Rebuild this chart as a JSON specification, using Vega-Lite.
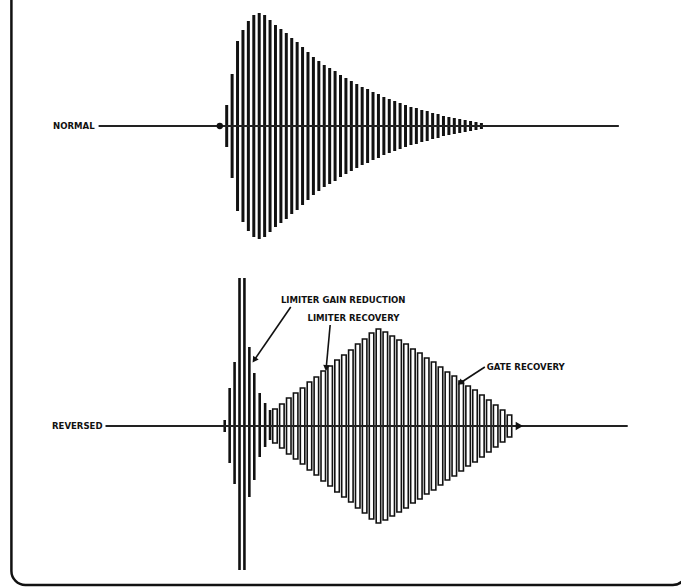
{
  "$schema": "https://vega.github.io/schema/vega-lite/v6.json",
  "width": 681,
  "height": 587,
  "padding": 0,
  "autosize": {"type": "fit", "contains": "padding"},
  "background": "white",
  "config": {"view": {"stroke": null}},
  "datasets": {
    "frame": [{"t": 6.5, "t2": 692, "v": -30, "v2": 585}],
    "baselines": [
      {"wave": "normal", "t": 95, "t2": 623, "v": 126},
      {"wave": "reversed", "t": 102, "t2": 632, "v": 426}
    ],
    "normal": [
      {"t": 225, "hi": 105, "lo": 147},
      {"t": 230.5, "hi": 74, "lo": 178},
      {"t": 236, "hi": 41, "lo": 211},
      {"t": 241.5, "hi": 30, "lo": 222},
      {"t": 247, "hi": 21, "lo": 231},
      {"t": 252.5, "hi": 15, "lo": 237},
      {"t": 258, "hi": 13, "lo": 239},
      {"t": 263.5, "hi": 15, "lo": 237},
      {"t": 269, "hi": 20, "lo": 232},
      {"t": 274.5, "hi": 25, "lo": 227},
      {"t": 280, "hi": 29, "lo": 223},
      {"t": 285.5, "hi": 33, "lo": 219},
      {"t": 291, "hi": 38, "lo": 214},
      {"t": 296.5, "hi": 42, "lo": 210},
      {"t": 302, "hi": 47, "lo": 205},
      {"t": 307.5, "hi": 52, "lo": 200},
      {"t": 313, "hi": 57, "lo": 195},
      {"t": 318.5, "hi": 61, "lo": 191},
      {"t": 324, "hi": 65, "lo": 187},
      {"t": 329.5, "hi": 68, "lo": 184},
      {"t": 335, "hi": 71, "lo": 181},
      {"t": 340.5, "hi": 75, "lo": 177},
      {"t": 346, "hi": 78, "lo": 174},
      {"t": 351.5, "hi": 81, "lo": 171},
      {"t": 357, "hi": 84, "lo": 168},
      {"t": 362.5, "hi": 87, "lo": 165},
      {"t": 368, "hi": 89, "lo": 163},
      {"t": 373.5, "hi": 92, "lo": 160},
      {"t": 379, "hi": 94, "lo": 158},
      {"t": 384.5, "hi": 97, "lo": 155},
      {"t": 390, "hi": 99, "lo": 153},
      {"t": 395.5, "hi": 101, "lo": 151},
      {"t": 401, "hi": 103, "lo": 149},
      {"t": 406.5, "hi": 105, "lo": 147},
      {"t": 412, "hi": 107, "lo": 145},
      {"t": 417.5, "hi": 108, "lo": 144},
      {"t": 423, "hi": 110, "lo": 142},
      {"t": 428.5, "hi": 111, "lo": 141},
      {"t": 434, "hi": 113, "lo": 139},
      {"t": 439.5, "hi": 114, "lo": 138},
      {"t": 445, "hi": 116, "lo": 136},
      {"t": 450.5, "hi": 117, "lo": 135},
      {"t": 456, "hi": 118, "lo": 134},
      {"t": 461.5, "hi": 119, "lo": 133},
      {"t": 467, "hi": 120, "lo": 132},
      {"t": 472.5, "hi": 121, "lo": 131},
      {"t": 478, "hi": 122, "lo": 130},
      {"t": 483.5, "hi": 123, "lo": 129}
    ],
    "limiter": [
      {"t": 223, "hi": 420, "lo": 432},
      {"t": 228, "hi": 388, "lo": 463},
      {"t": 233, "hi": 362, "lo": 484},
      {"t": 238, "hi": 278, "lo": 570},
      {"t": 243, "hi": 278, "lo": 570},
      {"t": 248, "hi": 347, "lo": 497},
      {"t": 253, "hi": 373, "lo": 480},
      {"t": 258.5, "hi": 393, "lo": 457},
      {"t": 264, "hi": 403, "lo": 447},
      {"t": 269, "hi": 410, "lo": 440}
    ],
    "gate": [
      {"t": 274, "hi": 409, "lo": 443},
      {"t": 281, "hi": 404, "lo": 448},
      {"t": 288, "hi": 398, "lo": 454},
      {"t": 295, "hi": 393, "lo": 459},
      {"t": 302, "hi": 388, "lo": 464},
      {"t": 309, "hi": 382, "lo": 470},
      {"t": 316, "hi": 377, "lo": 475},
      {"t": 323, "hi": 371, "lo": 481},
      {"t": 330, "hi": 366, "lo": 486},
      {"t": 337, "hi": 360, "lo": 492},
      {"t": 344, "hi": 355, "lo": 497},
      {"t": 351, "hi": 350, "lo": 502},
      {"t": 358, "hi": 344, "lo": 508},
      {"t": 365, "hi": 339, "lo": 513},
      {"t": 372, "hi": 333, "lo": 519},
      {"t": 379, "hi": 329, "lo": 523},
      {"t": 386, "hi": 332, "lo": 520},
      {"t": 393, "hi": 336, "lo": 516},
      {"t": 400, "hi": 340, "lo": 512},
      {"t": 407, "hi": 344, "lo": 508},
      {"t": 414, "hi": 349, "lo": 503},
      {"t": 421, "hi": 353, "lo": 499},
      {"t": 428, "hi": 358, "lo": 494},
      {"t": 435, "hi": 362, "lo": 490},
      {"t": 442, "hi": 367, "lo": 485},
      {"t": 449, "hi": 372, "lo": 480},
      {"t": 456, "hi": 376, "lo": 476},
      {"t": 463, "hi": 381, "lo": 471},
      {"t": 470, "hi": 386, "lo": 466},
      {"t": 477, "hi": 390, "lo": 462},
      {"t": 484, "hi": 395, "lo": 457},
      {"t": 491, "hi": 400, "lo": 452},
      {"t": 498, "hi": 405, "lo": 447},
      {"t": 505, "hi": 410, "lo": 442},
      {"t": 512, "hi": 415, "lo": 437}
    ],
    "onset": [{"t": 218, "v": 126}],
    "tail": [{"t": 522, "v": 426}],
    "sidelabels": [
      {"text": "NORMAL", "t": 91, "v": 126},
      {"text": "REVERSED", "t": 99, "v": 426}
    ],
    "notes": [
      {"text": "LIMITER GAIN REDUCTION", "t": 280, "v": 300},
      {"text": "LIMITER RECOVERY", "t": 307, "v": 318},
      {"text": "GATE RECOVERY", "t": 489, "v": 367}
    ],
    "arrows": [
      {"id": "gain", "t": 290, "v": 307, "t2": 253, "v2": 360},
      {"id": "limrec", "t": 330, "v": 325, "t2": 326, "v2": 368},
      {"id": "gaterec", "t": 487, "v": 367, "t2": 462, "v2": 383}
    ]
  },
  "encoding": {
    "x": {"field": "t", "type": "quantitative", "scale": {"domain": [0, 681], "nice": false, "zero": false}, "axis": null},
    "y": {"field": "v", "type": "quantitative", "scale": {"domain": [0, 587], "nice": false, "zero": false, "reverse": true}, "axis": null}
  },
  "layer": [
    {
      "data": {"name": "frame"},
      "mark": {"type": "rect", "fill": null, "stroke": "#111", "strokeWidth": 2.5, "cornerRadius": 14, "clip": true},
      "encoding": {"x2": {"field": "t2"}, "y2": {"field": "v2"}}
    },
    {
      "data": {"name": "normal"},
      "mark": {"type": "rule", "stroke": "#111", "strokeWidth": 3},
      "encoding": {"y": {"field": "hi", "type": "quantitative"}, "y2": {"field": "lo"}}
    },
    {
      "data": {"name": "limiter"},
      "mark": {"type": "rule", "stroke": "#111", "strokeWidth": 2.6},
      "encoding": {"y": {"field": "hi", "type": "quantitative"}, "y2": {"field": "lo"}}
    },
    {
      "data": {"name": "gate"},
      "mark": {"type": "bar", "width": 4.5, "fill": "white", "stroke": "#111", "strokeWidth": 1.6, "orient": "vertical"},
      "encoding": {"y": {"field": "hi", "type": "quantitative"}, "y2": {"field": "lo"}}
    },
    {
      "data": {"name": "baselines"},
      "mark": {"type": "rule", "stroke": "#222", "strokeWidth": 1.8},
      "encoding": {"x2": {"field": "t2"}}
    },
    {
      "data": {"name": "onset"},
      "mark": {"type": "point", "shape": "circle", "filled": true, "size": 40, "color": "#111", "opacity": 1},
      "encoding": {}
    },
    {
      "data": {"name": "tail"},
      "mark": {"type": "point", "shape": "triangle-right", "filled": true, "size": 70, "color": "#111", "opacity": 1},
      "encoding": {}
    },
    {
      "data": {"name": "arrows"},
      "mark": {"type": "rule", "stroke": "#111", "strokeWidth": 1.6},
      "encoding": {"x2": {"field": "t2"}, "y2": {"field": "v2"}}
    },
    {
      "data": {"name": "arrows"},
      "transform": [{"filter": "datum.id === 'gain'"}],
      "mark": {"type": "point", "shape": "triangle-up", "filled": true, "size": 45, "color": "#111", "opacity": 1, "angle": 215},
      "encoding": {"x": {"field": "t2", "type": "quantitative"}, "y": {"field": "v2", "type": "quantitative"}}
    },
    {
      "data": {"name": "arrows"},
      "transform": [{"filter": "datum.id === 'limrec'"}],
      "mark": {"type": "point", "shape": "triangle-up", "filled": true, "size": 45, "color": "#111", "opacity": 1, "angle": 186},
      "encoding": {"x": {"field": "t2", "type": "quantitative"}, "y": {"field": "v2", "type": "quantitative"}}
    },
    {
      "data": {"name": "arrows"},
      "transform": [{"filter": "datum.id === 'gaterec'"}],
      "mark": {"type": "point", "shape": "triangle-up", "filled": true, "size": 45, "color": "#111", "opacity": 1, "angle": 233},
      "encoding": {"x": {"field": "t2", "type": "quantitative"}, "y": {"field": "v2", "type": "quantitative"}}
    },
    {
      "data": {"name": "sidelabels"},
      "mark": {"type": "text", "align": "right", "baseline": "middle", "font": "Liberation Sans Narrow, DejaVu Sans Condensed, sans-serif", "fontWeight": "bold", "fontSize": 9.5, "color": "#111"},
      "encoding": {"text": {"field": "text"}}
    },
    {
      "data": {"name": "notes"},
      "mark": {"type": "text", "align": "left", "baseline": "middle", "font": "Liberation Sans Narrow, DejaVu Sans Condensed, sans-serif", "fontWeight": "bold", "fontSize": 9.5, "color": "#111"},
      "encoding": {"text": {"field": "text"}}
    }
  ]
}
